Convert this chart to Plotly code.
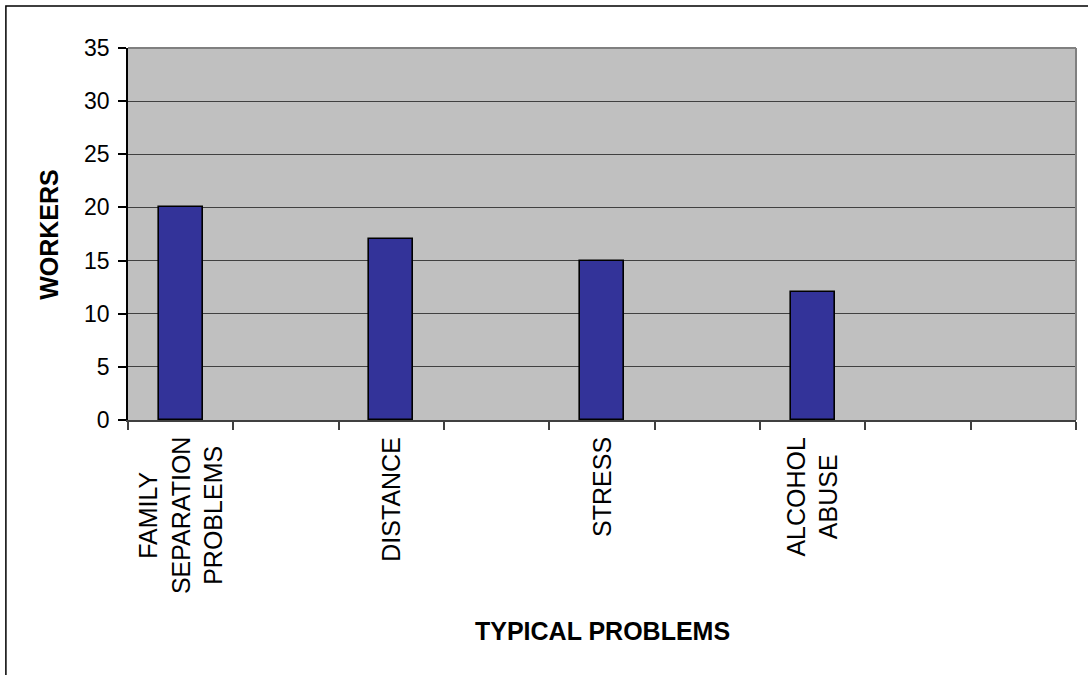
import plotly.graph_objects as go

# Category slots along the x axis (blank slots are empty columns)
categories = ["FAMILY<br>SEPARATION<br>PROBLEMS", " ", "DISTANCE", "  ",
              "STRESS", "   ", "ALCOHOL<br>ABUSE", "    ", "     "]
workers = [20, None, 17, None, 15, None, 12, None, None]
y_ticks = [0, 5, 10, 15, 20, 25, 30, 35]

FONT = "Liberation Sans, Arial, sans-serif"

fig = go.Figure()
fig.add_trace(go.Bar(
    x=categories,
    y=workers,
    width=0.42,
    marker=dict(color="#333399", line=dict(color="#000000", width=1.6)),
    hoverinfo="x+y",
))

# Category labels, rotated, with centred lines
annotations = []
for cat in categories:
    if cat.strip():
        annotations.append(dict(
            x=cat, y=-0.04, xref="x", yref="paper",
            text=cat, textangle=-90, showarrow=False,
            xanchor="center", yanchor="top", align="center",
            font=dict(family=FONT, size=25, color="#000000"),
        ))

# Axis titles
annotations.append(dict(
    x=-0.0835, y=0.5, xref="paper", yref="paper",
    text="<b>WORKERS</b>", textangle=-90, showarrow=False,
    xanchor="center", yanchor="middle",
    font=dict(family=FONT, size=25, color="#000000"),
))
annotations.append(dict(
    x=0.5, y=-0.567, xref="paper", yref="paper",
    text="<b>TYPICAL PROBLEMS</b>", showarrow=False,
    xanchor="center", yanchor="middle",
    font=dict(family=FONT, size=25, color="#000000"),
))

shapes = [
    # outer chart border
    dict(type="rect", xref="paper", yref="paper",
         x0=-0.1288, x1=1.03, y0=-0.72, y1=1.1129,
         line=dict(color="#000000", width=1.5), fillcolor="rgba(0,0,0,0)",
         layer="above"),
    # top and right edges of the plot area
    dict(type="line", xref="paper", yref="paper", x0=0, x1=1, y0=1, y1=1,
         line=dict(color="#808080", width=2), layer="above"),
    dict(type="line", xref="paper", yref="paper", x0=1, x1=1, y0=0, y1=1,
         line=dict(color="#808080", width=2), layer="above"),
]

fig.update_layout(
    width=1088, height=675,
    margin=dict(l=128, r=12, t=48, b=255),
    paper_bgcolor="#FFFFFF",
    plot_bgcolor="#C0C0C0",
    showlegend=False,
    bargap=0,
    font=dict(family=FONT, color="#000000"),
    annotations=annotations,
    shapes=shapes,
    xaxis=dict(
        type="category",
        categoryorder="array", categoryarray=categories,
        range=[-0.5, len(categories) - 0.5],
        showticklabels=False,
        ticks="outside", tickson="boundaries", ticklen=8,
        tickcolor="#404040", tickwidth=1.5,
        showline=True, linecolor="#404040", linewidth=1.5,
        showgrid=False, zeroline=False, fixedrange=True,
    ),
    yaxis=dict(
        range=[0, 35],
        tickvals=y_ticks,
        ticktext=[str(v) for v in y_ticks],
        ticks="outside", ticklen=8, tickcolor="#000000", tickwidth=1.5,
        ticklabelstandoff=4,
        tickfont=dict(family=FONT, size=23, color="#000000"),
        showline=True, linecolor="#000000", linewidth=1.5,
        showgrid=True, gridcolor="#404040", gridwidth=1,
        zeroline=False, fixedrange=True,
    ),
)

fig.write_html("out.html")
